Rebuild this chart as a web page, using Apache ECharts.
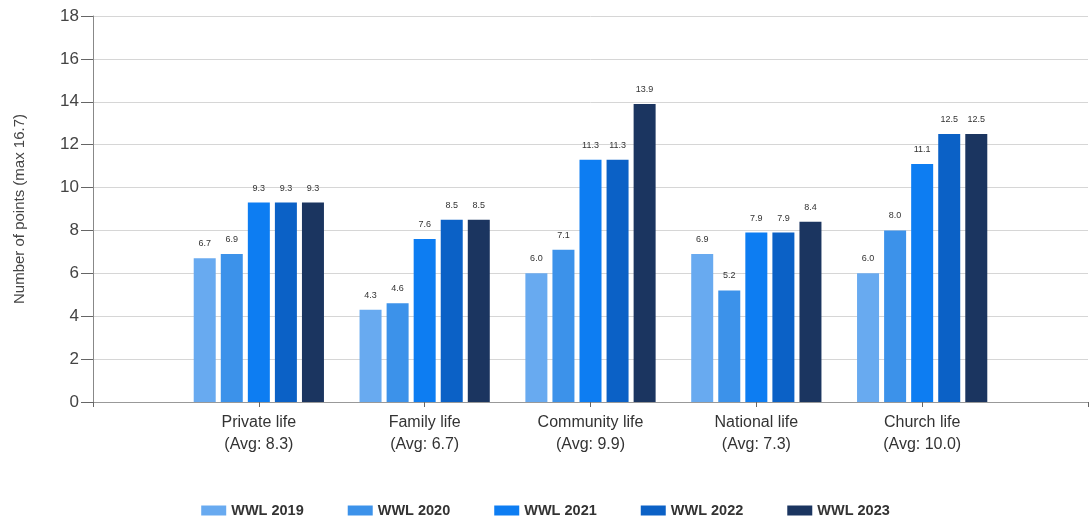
<!DOCTYPE html>
<html><head><meta charset="utf-8">
<script src="https://cdn.jsdelivr.net/npm/echarts@6/dist/echarts.min.js"></script>
<style>html,body{margin:0;padding:0;background:#fff}#c{width:1091px;height:523px}</style>
</head><body><div id="c"></div>
<script>
const categories = ['', 'Private life\n(Avg: 8.3)', 'Family life\n(Avg: 6.7)', 'Community life\n(Avg: 9.9)', 'National life\n(Avg: 7.3)', 'Church life\n(Avg: 10.0)', ''];
const seriesNames = ['WWL 2019', 'WWL 2020', 'WWL 2021', 'WWL 2022', 'WWL 2023'];
const wwl2019 = ['-', 6.7, 4.3, 6.0, 6.9, 6.0, '-'];
const wwl2020 = ['-', 6.9, 4.6, 7.1, 5.2, 8.0, '-'];
const wwl2021 = ['-', 9.3, 7.6, 11.3, 7.9, 11.1, '-'];
const wwl2022 = ['-', 9.3, 8.5, 11.3, 7.9, 12.5, '-'];
const wwl2023 = ['-', 9.3, 8.5, 13.9, 8.4, 12.5, '-'];
const yTicks = [0, 2, 4, 6, 8, 10, 12, 14, 16, 18];
const colors = ['#68aaf0', '#3c92ea', '#0d7df2', '#0b61c6', '#1b3560'];
const allData = [wwl2019, wwl2020, wwl2021, wwl2022, wwl2023];

const chart = echarts.init(document.getElementById('c'));
chart.setOption({
  animation: false,
  grid: { left: 93, right: 2, top: 16, bottom: 121 },
  legend: {
    bottom: 0, left: 'center', itemWidth: 25, itemHeight: 10, itemGap: 44,
    icon: 'rect',
    textStyle: { fontSize: 14.5, fontWeight: 'bold', color: '#333', fontFamily: 'Liberation Sans' },
    data: seriesNames
  },
  xAxis: {
    type: 'category', data: categories, boundaryGap: false,
    axisLine: { lineStyle: { color: '#999' } },
    axisTick: { length: 5, lineStyle: { color: '#666' } },
    axisLabel: { fontSize: 16, color: '#333', lineHeight: 22, margin: 10, fontFamily: 'Liberation Sans' },
    splitLine: { show: false }
  },
  yAxis: {
    type: 'value', min: yTicks[0], max: yTicks[yTicks.length - 1], interval: 2,
    name: 'Number of points (max 16.7)', nameLocation: 'middle', nameGap: 66,
    nameTextStyle: { fontSize: 15, color: '#444', fontFamily: 'Liberation Sans' },
    axisLine: { show: true, lineStyle: { color: '#888' } },
    axisTick: { show: true, length: 12, lineStyle: { color: '#666' } },
    axisLabel: { fontSize: 17, color: '#444', margin: 14, fontFamily: 'Liberation Sans' },
    splitLine: { lineStyle: { color: '#d6d6d6' } }
  },
  series: seriesNames.map((n, i) => ({
    name: n, type: 'bar', data: allData[i],
    barWidth: 22, barGap: '23%',
    itemStyle: { color: colors[i] },
    label: { show: true, position: 'top', distance: 10, fontSize: 9, color: '#333',
      formatter: p => Number(p.value).toFixed(1), fontFamily: 'Liberation Sans' }
  }))
});
</script></body></html>
